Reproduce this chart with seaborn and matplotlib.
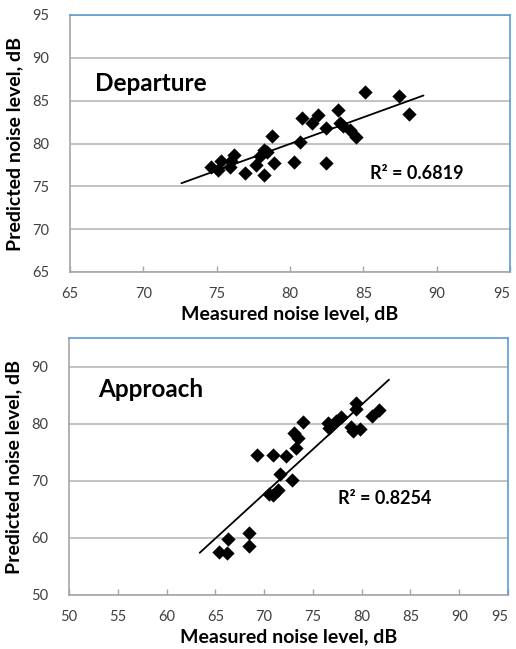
import numpy as np
import pandas as pd
import matplotlib
matplotlib.use("Agg")
import matplotlib.pyplot as plt
import seaborn as sns

# ---------------- data ----------------
departure_measured = [74.6, 75.1, 75.3, 75.9, 76.0, 76.2, 76.9, 77.7, 77.95, 78.2,
                      78.4, 78.75, 78.9, 78.2, 80.3, 80.7, 80.8, 81.5, 81.9, 82.45,
                      82.45, 83.3, 83.4, 83.6, 84.1, 84.5, 85.1, 87.4, 88.1]
departure_predicted = [77.3, 76.9, 77.9, 77.3, 77.9, 78.7, 76.5, 77.5, 78.5, 79.25,
                       79.05, 80.9, 77.7, 76.3, 77.8, 80.2, 83.0, 82.4, 83.3, 81.85,
                       77.7, 83.9, 82.4, 82.0, 81.6, 80.8, 86.0, 85.5, 83.4]

approach_measured = [65.4, 66.2, 66.3, 68.45, 68.5, 69.3, 70.55, 70.9, 71.4, 71.6,
                     70.9, 72.2, 72.9, 73.3, 73.5, 73.1, 74.0, 76.55, 76.7, 77.4,
                     77.9, 78.9, 79.1, 79.8, 79.4, 79.45, 81.1, 81.8]
approach_predicted = [57.5, 57.3, 59.8, 58.5, 60.9, 74.6, 67.6, 67.5, 68.3, 71.2,
                      74.6, 74.3, 70.2, 75.8, 77.5, 78.4, 80.3, 80.1, 79.2, 80.4,
                      81.2, 79.5, 78.7, 79.0, 83.7, 82.5, 81.3, 82.4]

panel_titles = ["Departure", "Approach"]
r2_labels = ["R\u00b2 = 0.6819", "R\u00b2 = 0.8254"]
x_label = "Measured noise level, dB"
y_label = "Predicted noise level, dB"

# ---------------- style ----------------
sns.set_theme(style="white")
plt.rcParams["font.family"] = ["Lato", "DejaVu Sans"]

fig = plt.figure(figsize=(5.16, 6.49), dpi=100)
ax_top = fig.add_axes([70 / 516, 1 - 272 / 649, 440 / 516, 257 / 649])
ax_bot = fig.add_axes([69 / 516, 1 - 595 / 649, 439 / 516, 257 / 649])

grid_c = "#BEBEBE"
axis_c = "#A6A6A6"
blue_c = "#5B9BD5"
tick_c = "#404040"

panels = [
    dict(ax=ax_top, x=departure_measured, y=departure_predicted,
         xlim=(65, 95), ylim=(65, 95), xt=np.arange(65, 96, 5), yt=np.arange(65, 96, 5),
         title_pos=(0.057, 0.735), r2_pos=(0.682, 0.385)),
    dict(ax=ax_bot, x=approach_measured, y=approach_predicted,
         xlim=(50, 95), ylim=(50, 95), xt=np.arange(50, 96, 5), yt=np.arange(50, 91, 10),
         title_pos=(0.066, 0.798), r2_pos=(0.613, 0.374)),
]

for p, title, r2 in zip(panels, panel_titles, r2_labels):
    ax = p["ax"]
    df = pd.DataFrame({"measured": p["x"], "predicted": p["y"]})
    sns.scatterplot(data=df, x="measured", y="predicted", ax=ax, marker="D",
                    s=48, color="black", edgecolor="black", linewidth=0.3, zorder=3)
    # linear trendline (least squares), extended like an Excel forecast
    coef = np.polyfit(df["measured"], df["predicted"], 1)
    xs = np.array([df["measured"].min() - 2.0, df["measured"].max() + 1.0])
    line = pd.DataFrame({"x": xs, "y": np.polyval(coef, xs)})
    sns.lineplot(data=line, x="x", y="y", ax=ax, color="black", linewidth=1.3, zorder=2)

    ax.set_xlim(*p["xlim"])
    ax.set_ylim(*p["ylim"])
    ax.set_xticks(p["xt"])
    ax.set_yticks(p["yt"])
    ax.yaxis.grid(True, color=grid_c, linewidth=1.3)
    ax.xaxis.grid(False)
    ax.set_axisbelow(True)

    for side in ["left", "bottom"]:
        ax.spines[side].set_color(axis_c)
        ax.spines[side].set_linewidth(1.2)
    for side in ["top", "right"]:
        ax.spines[side].set_color(blue_c)
        ax.spines[side].set_linewidth(1.2)

    ax.tick_params(axis="x", direction="in", length=4, width=1, color=axis_c,
                   labelsize=10.5, labelcolor=tick_c, pad=11, bottom=True)
    ax.tick_params(axis="y", length=0, labelsize=10.5, labelcolor=tick_c, pad=15, left=True)
    # keep the rightmost tick label inside the canvas
    ax.get_xticklabels()[-1].set_horizontalalignment("right")
    ax.get_xticklabels()[-1].set_x(ax.get_xticklabels()[-1].get_position()[0])

    ax.set_xlabel(x_label, fontsize=14, fontweight="bold", color="black", labelpad=3)
    ax.set_ylabel(y_label, fontsize=14, fontweight="bold", color="black", labelpad=6)

    ax.text(p["title_pos"][0], p["title_pos"][1], title, transform=ax.transAxes,
            fontsize=17.5, fontweight="bold", color="black", ha="left", va="center")
    ax.text(p["r2_pos"][0], p["r2_pos"][1], r2, transform=ax.transAxes,
            fontsize=13, fontweight="bold", color="black", ha="left", va="center")

fig.savefig("out.png", dpi=100)
